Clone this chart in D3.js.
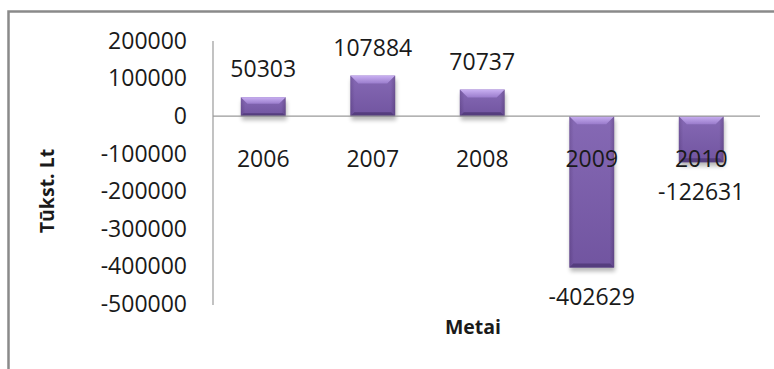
<!DOCTYPE html>
<html>
<head>
<meta charset="utf-8">
<script src="https://cdn.jsdelivr.net/npm/d3@7"></script>
<style>
  html, body { margin: 0; padding: 0; background: #fff; }
  svg { display: block; }
  text { font-family: "Open Sans", "Noto Sans", sans-serif; fill: #1a1a1a; }
</style>
</head>
<body>
<svg id="chart" width="774" height="369"></svg>
<script>
// Annual result, thousand litas
const years = ["2006", "2007", "2008", "2009", "2010"];
const values = [50303, 107884, 70737, -402629, -122631];
const yTicks = [200000, 100000, 0, -100000, -200000, -300000, -400000, -500000];
const yTitle = "Tūkst. Lt";
const xTitle = "Metai";

const svg = d3.select("#chart");
const W = 774, H = 369;

// Chart frame
svg.append("rect")
  .attr("x", 8.5).attr("y", 11.5)
  .attr("width", W + 20).attr("height", H + 20)
  .attr("fill", "#fff")
  .attr("stroke", "#8a8a8a").attr("stroke-width", 2.5);

const plot = { left: 213, right: 760, top: 41, bottom: 304 };

const x = d3.scaleBand()
  .domain(years)
  .range([208.5, 756])
  .paddingInner(0.59)
  .paddingOuter(0.295);

const y = d3.scaleLinear()
  .domain([-500000, 200000])
  .range([plot.bottom, plot.top]);

const defs = svg.append("defs");

// Bar body shading
const body = defs.append("linearGradient").attr("id", "barBody")
  .attr("x1", 0).attr("x2", 1).attr("y1", 0).attr("y2", 0);
body.append("stop").attr("offset", "0%").attr("stop-color", "#6a4c98");
body.append("stop").attr("offset", "10%").attr("stop-color", "#7b5cae");
body.append("stop").attr("offset", "90%").attr("stop-color", "#7b5cae");
body.append("stop").attr("offset", "100%").attr("stop-color", "#66498f");

const vshade = defs.append("linearGradient").attr("id", "barV")
  .attr("x1", 0).attr("x2", 0).attr("y1", 0).attr("y2", 1);
vshade.append("stop").attr("offset", "0%").attr("stop-color", "#ffffff").attr("stop-opacity", 0.08);
vshade.append("stop").attr("offset", "100%").attr("stop-color", "#000000").attr("stop-opacity", 0.08);

const bevel = defs.append("linearGradient").attr("id", "barBevel")
  .attr("x1", 0).attr("x2", 0).attr("y1", 0).attr("y2", 1);
bevel.append("stop").attr("offset", "0%").attr("stop-color", "#c9b0f2");
bevel.append("stop").attr("offset", "100%").attr("stop-color", "#9a7ccc");

const shadow = defs.append("filter").attr("id", "barShadow")
  .attr("x", "-30%").attr("y", "-30%").attr("width", "160%").attr("height", "160%");
shadow.append("feGaussianBlur").attr("stdDeviation", 2.2);

// Value axis line
svg.append("line")
  .attr("x1", plot.left).attr("x2", plot.left)
  .attr("y1", plot.top).attr("y2", plot.bottom + 1)
  .attr("stroke", "#9a9a9a").attr("stroke-width", 1.2);

// Bars
const bars = svg.append("g");
const bw = x.bandwidth();
years.forEach((yr, i) => {
  const v = values[i];
  const x0 = x(yr);
  const yTop = Math.min(y(v), y(0));
  const yBot = Math.max(y(v), y(0));
  const h = yBot - yTop;
  const g = bars.append("g");
  // soft shadow below the bar
  g.append("rect")
    .attr("x", x0 + 1).attr("y", yTop + 4)
    .attr("width", bw).attr("height", h)
    .attr("fill", "#000").attr("opacity", 0.28)
    .attr("filter", "url(#barShadow)");
  g.append("rect")
    .attr("x", x0).attr("y", yTop)
    .attr("width", bw).attr("height", h)
    .attr("fill", "url(#barBody)");
  g.append("rect")
    .attr("x", x0).attr("y", yTop)
    .attr("width", bw).attr("height", h)
    .attr("fill", "url(#barV)");
  // top bevel
  const bv = Math.min(8, h * 0.35);
  g.append("path")
    .attr("d", `M${x0},${yTop} L${x0 + bw},${yTop} L${x0 + bw - bv},${yTop + bv} L${x0 + bv},${yTop + bv} Z`)
    .attr("fill", "url(#barBevel)");
  // bottom edge
  const be = Math.min(4, h * 0.15);
  g.append("path")
    .attr("d", `M${x0},${yBot} L${x0 + bw},${yBot} L${x0 + bw - be},${yBot - be} L${x0 + be},${yBot - be} Z`)
    .attr("fill", "#553d7e");
});

// Zero line
svg.append("line")
  .attr("x1", plot.left).attr("x2", plot.right)
  .attr("y1", y(0)).attr("y2", y(0))
  .attr("stroke", "#9a9a9a").attr("stroke-width", 1.2);

// Y tick labels
const yAxis = d3.axisLeft(y).tickValues(yTicks).tickSize(0).tickPadding(26)
  .tickFormat(d => String(d));
const ya = svg.append("g").attr("transform", `translate(${plot.left},0)`).call(yAxis);
ya.select(".domain").remove();
ya.selectAll("text")
  .attr("font-family", "'Open Sans', sans-serif")
  .attr("font-size", 23).attr("fill", "#1a1a1a");

// Category labels below the zero line
const xAxis = d3.axisBottom(x).tickSize(0).tickPadding(0);
const xa = svg.append("g").attr("transform", `translate(0,${y(0) + 51})`).call(xAxis);
xa.select(".domain").remove();
xa.selectAll("text")
  .attr("dy", 0)
  .attr("font-family", "'Open Sans', sans-serif")
  .attr("font-size", 23).attr("fill", "#1a1a1a");

// Value labels
svg.append("g").selectAll("text")
  .data(years)
  .join("text")
  .attr("x", d => x(d) + bw / 2)
  .attr("y", (d, i) => values[i] >= 0 ? y(values[i]) - 20 : y(values[i]) + 38)
  .attr("text-anchor", "middle")
  .attr("font-size", 23)
  .text((d, i) => values[i]);

// Axis titles
svg.append("text")
  .attr("transform", `translate(54,191) rotate(-90)`)
  .attr("text-anchor", "middle")
  .attr("font-size", 19.5).attr("font-weight", "bold")
  .text(yTitle);

svg.append("text")
  .attr("x", 473).attr("y", 334)
  .attr("text-anchor", "middle")
  .attr("font-size", 19.5).attr("font-weight", "bold")
  .text(xTitle);
</script>
</body>
</html>
